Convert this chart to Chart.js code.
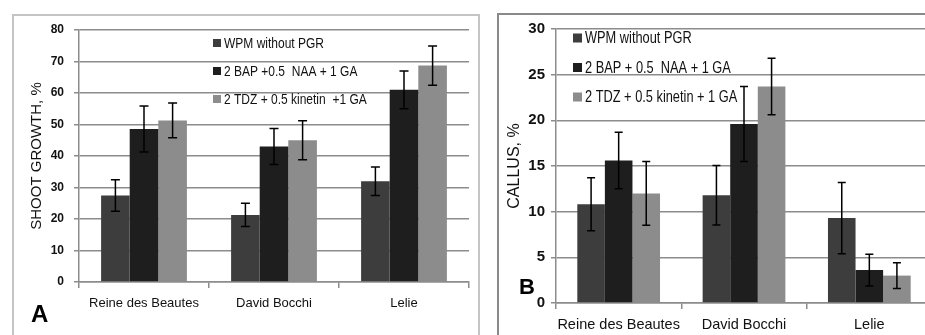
<!DOCTYPE html>
<html>
<head>
<meta charset="utf-8">
<script src="https://cdn.jsdelivr.net/npm/chart.js@4.4.0/dist/chart.umd.min.js"></script>
<style>
html, body { margin: 0; padding: 0; background: #fff; width: 925px; height: 335px; overflow: hidden; }
.frame { position: absolute; box-sizing: border-box; }
#frameA { left: 12px; top: 14px; width: 468px; height: 340px; border: 2px solid #c4c4c4; }
#frameB { left: 497px; top: 13px; width: 460px; height: 340px; border: 2px solid #8a8a8a; }
canvas { position: absolute; }
#chartA { left: 0; top: 0; }
#chartB { left: 480px; top: 0; }
.tag { position: absolute; font: bold 24px 'Liberation Sans', Arial, sans-serif; color: #000; line-height: 1; }
</style>
</head>
<body>
<div class="frame" id="frameA"></div>
<div class="frame" id="frameB"></div>
<canvas id="chartA" width="482" height="335"></canvas>
<canvas id="chartB" width="462" height="345"></canvas>
<div class="tag" style="left:31px; top:302px;">A</div>
<div class="tag" style="left:519px; top:276px; font-size:22px;">B</div>
<script>
var cultivars = ['Reine des Beautes', 'David Bocchi', 'Lelie'];

var labelsA = ['WPM without PGR', '2 BAP +0.5  NAA + 1 GA', '2 TDZ + 0.5 kinetin  +1 GA'];
var labelsB = ['WPM without PGR', '2 BAP + 0.5  NAA + 1 GA', '2 TDZ + 0.5 kinetin + 1 GA'];

// A - shoot growth, %
var shootWPM = [27.5, 21.3, 32.0];
var shootBAP = [48.6, 43.0, 61.0];
var shootTDZ = [51.3, 45.0, 68.7];
var shootWPMErr = [5.0, 3.7, 4.5];
var shootBAPErr = [7.3, 5.7, 6.0];
var shootTDZErr = [5.5, 6.2, 6.2];
var shootTicks = { min: 0, max: 80, step: 10 };

// B - callus, %
var callusWPM = [10.8, 11.8, 9.3];
var callusBAP = [15.6, 19.6, 3.6];
var callusTDZ = [12.0, 23.7, 3.0];
var callusWPMErr = [2.9, 3.25, 3.9];
var callusBAPErr = [3.1, 4.1, 1.75];
var callusTDZErr = [3.5, 3.1, 1.4];
var callusTicks = { min: 0, max: 30, step: 5 };

var barColors = ['#3d3d3d', '#1e1e1e', '#8c8c8c'];
var gridColor = '#8c8c8c';
var font = "'Liberation Sans', Arial, sans-serif";

var errorBars = {
    id: 'errorBars',
    afterDatasetsDraw: function(chart, args, opts) {
        var ctx = chart.ctx;
        var y = chart.scales.y;
        ctx.save();
        ctx.strokeStyle = '#000';
        ctx.lineWidth = 1.5;
        chart.data.datasets.forEach(function(ds, i) {
            var meta = chart.getDatasetMeta(i);
            meta.data.forEach(function(bar, j) {
                var v = ds.data[j], e = ds.errors[j];
                var top = y.getPixelForValue(v + e);
                var bot = y.getPixelForValue(v - e);
                ctx.beginPath();
                ctx.moveTo(bar.x, top); ctx.lineTo(bar.x, bot);
                ctx.moveTo(bar.x - opts.cap, top); ctx.lineTo(bar.x + opts.cap, top);
                ctx.moveTo(bar.x - opts.cap, bot); ctx.lineTo(bar.x + opts.cap, bot);
                ctx.stroke();
            });
        });
        ctx.restore();
    }
};

// legend sits inside the plot, drawn by hand (text squeezed like a narrow face)
var innerLegend = {
    id: 'innerLegend',
    afterDraw: function(chart, args, opts) {
        var ctx = chart.ctx;
        var area = chart.chartArea;
        ctx.save();
        ctx.font = opts.font;
        ctx.textBaseline = 'middle';
        chart.data.datasets.forEach(function(ds, i) {
            var x = area.left + opts.dx;
            var y = area.top + opts.dy + i * opts.gap;
            ctx.fillStyle = ds.backgroundColor;
            ctx.fillRect(x, y - opts.box / 2, opts.box, opts.box);
            ctx.fillStyle = '#111';
            ctx.save();
            ctx.translate(x + opts.box + 3, y + 1);
            ctx.scale(opts.squeeze, 1);
            ctx.fillText(ds.label, 0, 0);
            ctx.restore();
        });
        ctx.restore();
    }
};

function makeChart(id, labels, series, errs, ticks, s) {
    var datasets = series.map(function(vals, i) {
        return {
            label: labels[i],
            data: vals,
            errors: errs[i],
            backgroundColor: barColors[i],
            borderWidth: 0,
            categoryPercentage: 0.66,
            barPercentage: 1.0
        };
    });
    return new Chart(document.getElementById(id), {
        type: 'bar',
        data: { labels: cultivars, datasets: datasets },
        options: {
            responsive: false,
            animation: false,
            devicePixelRatio: 1,
            layout: { padding: { left: 0, right: s.padRight, top: s.padTop, bottom: 0 } },
            plugins: {
                legend: { display: false },
                tooltip: { enabled: false },
                errorBars: { cap: s.cap },
                innerLegend: s.legend
            },
            scales: {
                x: {
                    grid: { drawOnChartArea: false, drawTicks: true, tickLength: 6, color: gridColor, lineWidth: 1.5 },
                    border: { color: gridColor, width: 1.5 },
                    ticks: { color: '#111', font: { family: font, size: s.xSize }, padding: s.xPad,
                             maxRotation: 0, minRotation: 0, autoSkip: false },
                    afterFit: function(scale) { scale.height = s.xHeight; }
                },
                y: {
                    min: ticks.min,
                    max: ticks.max,
                    grid: { color: gridColor, lineWidth: 1.5, tickLength: 5 },
                    border: { color: gridColor, width: 1.5 },
                    ticks: { stepSize: ticks.step, color: '#111', font: { family: font, size: s.ySize, weight: 'bold' }, padding: s.yPad },
                    title: { display: true, text: s.title, color: '#111', font: { family: font, size: s.titleSize }, padding: { top: s.titlePad, bottom: 0 } },
                    afterFit: function(scale) { scale.width = s.yWidth; }
                }
            }
        },
        plugins: [errorBars, innerLegend]
    });
}

makeChart('chartA', labelsA,
    [shootWPM, shootBAP, shootTDZ],
    [shootWPMErr, shootBAPErr, shootTDZErr],
    shootTicks,
    { padRight: 13, padTop: 30, xHeight: 53, xSize: 13, xPad: 8, ySize: 12, yPad: 10, yWidth: 79,
      title: 'SHOOT GROWTH, %', titleSize: 15, titlePad: 28, cap: 4.5,
      legend: { dx: 134, dy: 13, gap: 28, box: 8, font: '15px ' + font, squeeze: 0.8 } });

makeChart('chartB', labelsB,
    [callusWPM, callusBAP, callusTDZ],
    [callusWPMErr, callusBAPErr, callusTDZErr],
    callusTicks,
    { padRight: 10, padTop: 29, xHeight: 42, xSize: 14.5, xPad: 7, ySize: 15, yPad: 6, yWidth: 76,
      title: 'CALLUS, %', titleSize: 16, titlePad: 25, cap: 4,
      legend: { dx: 17, dy: 9, gap: 29.5, box: 9, font: '16px ' + font, squeeze: 0.8 } });
</script>
</body>
</html>
